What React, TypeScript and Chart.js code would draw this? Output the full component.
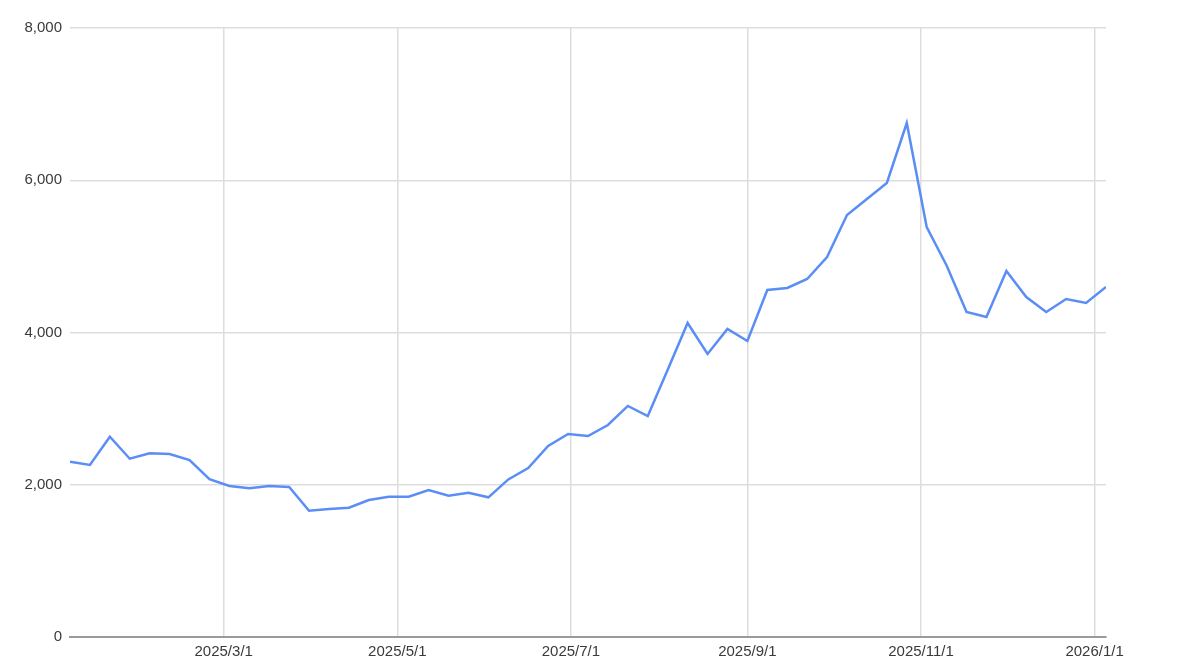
import React, { useEffect, useRef } from "react";
import { Chart, registerables } from "chart.js";

Chart.register(...registerables);

const weekDates = [
  "2025-01-06", "2025-01-13", "2025-01-20", "2025-01-27",
  "2025-02-03", "2025-02-10", "2025-02-17", "2025-02-24",
  "2025-03-03", "2025-03-10", "2025-03-17", "2025-03-24", "2025-03-31",
  "2025-04-07", "2025-04-14", "2025-04-21", "2025-04-28",
  "2025-05-05", "2025-05-12", "2025-05-19", "2025-05-26",
  "2025-06-02", "2025-06-09", "2025-06-16", "2025-06-23", "2025-06-30",
  "2025-07-07", "2025-07-14", "2025-07-21", "2025-07-28",
  "2025-08-04", "2025-08-11", "2025-08-18", "2025-08-25",
  "2025-09-01", "2025-09-08", "2025-09-15", "2025-09-22", "2025-09-29",
  "2025-10-06", "2025-10-13", "2025-10-20", "2025-10-27",
  "2025-11-03", "2025-11-10", "2025-11-17", "2025-11-24",
  "2025-12-01", "2025-12-08", "2025-12-15", "2025-12-22", "2025-12-29",
  "2026-01-05",
];

const seriesValues = [
  2303, 2260, 2631, 2342, 2413, 2404, 2325, 2072, 1984, 1953,
  1984, 1970, 1659, 1681, 1698, 1800, 1843, 1843, 1931, 1856,
  1895, 1835, 2070, 2220, 2509, 2667, 2640, 2785, 3035, 2903,
  3510, 4125, 3718, 4046, 3888, 4558, 4585, 4703, 4992, 5544,
  5754, 5964, 6752, 5386, 4880, 4270, 4204, 4808, 4466, 4270,
  4440, 4388, 4598,
];

const xTickDates = ["2025-03-01", "2025-05-01", "2025-07-01", "2025-09-01", "2025-11-01", "2026-01-01"];
const xTickLabels = ["2025/3/1", "2025/5/1", "2025/7/1", "2025/9/1", "2025/11/1", "2026/1/1"];

const yTicks = [0, 2000, 4000, 6000, 8000];

function toDay(s: string): number {
  const [y, m, d] = s.split("-").map(Number);
  return Date.UTC(y, m - 1, d) / 86400000;
}

export default function App() {
  const ref = useRef<HTMLCanvasElement | null>(null);

  useEffect(() => {
    document.body.style.margin = "0";
    if (!ref.current) return;
    const tickDays = xTickDates.map(toDay);
    const points = weekDates.map((d, i) => ({ x: toDay(d), y: seriesValues[i] }));
    const font = { family: "'Liberation Sans', Arial, sans-serif", size: 15 };

    const chart = new Chart(ref.current, {
      type: "line",
      data: {
        datasets: [
          {
            data: points,
            borderColor: "#5a8ef6",
            borderWidth: 2.5,
            pointRadius: 0,
            tension: 0,
            fill: false,
          },
        ],
      },
      options: {
        animation: false,
        responsive: false,
        maintainAspectRatio: false,
        layout: { padding: { left: 0, right: 74, top: 28, bottom: 0 } },
        plugins: { legend: { display: false }, tooltip: { enabled: false } },
        scales: {
          x: {
            type: "linear",
            min: toDay(weekDates[0]),
            max: toDay(weekDates[weekDates.length - 1]),
            afterBuildTicks: (scale: any) => {
              scale.ticks = tickDays.map((v) => ({ value: v }));
            },
            afterFit: (scale: any) => {
              scale.height = 35;
            },
            ticks: {
              autoSkip: false,
              maxRotation: 0,
              padding: 6,
              color: "#3a3a3a",
              font,
              callback: (v: any) => {
                const idx = tickDays.indexOf(Number(v));
                return idx >= 0 ? xTickLabels[idx] : "";
              },
            },
            grid: { color: "#dddddd", lineWidth: 1.5, drawTicks: false },
            border: { display: true, color: "#9a9a9a", width: 2 },
          },
          y: {
            min: 0,
            max: 8000,
            afterBuildTicks: (scale: any) => {
              scale.ticks = yTicks.map((v) => ({ value: v }));
            },
            afterFit: (scale: any) => {
              scale.width = 70;
            },
            ticks: {
              padding: 8,
              color: "#3a3a3a",
              font,
              callback: (v: any) => Number(v).toLocaleString("en-US"),
            },
            grid: {
              color: (ctx: any) => (ctx.tick && ctx.tick.value === 0 ? "rgba(0,0,0,0)" : "#dddddd"),
              lineWidth: 1.5,
              drawTicks: false,
            },
            border: { display: false },
          },
        },
      },
    });
    return () => chart.destroy();
  }, []);

  return (
    <div style={{ width: 1180, height: 672, background: "#fff" }}>
      <canvas ref={ref} width={1180} height={672} style={{ display: "block" }} />
    </div>
  );
}
